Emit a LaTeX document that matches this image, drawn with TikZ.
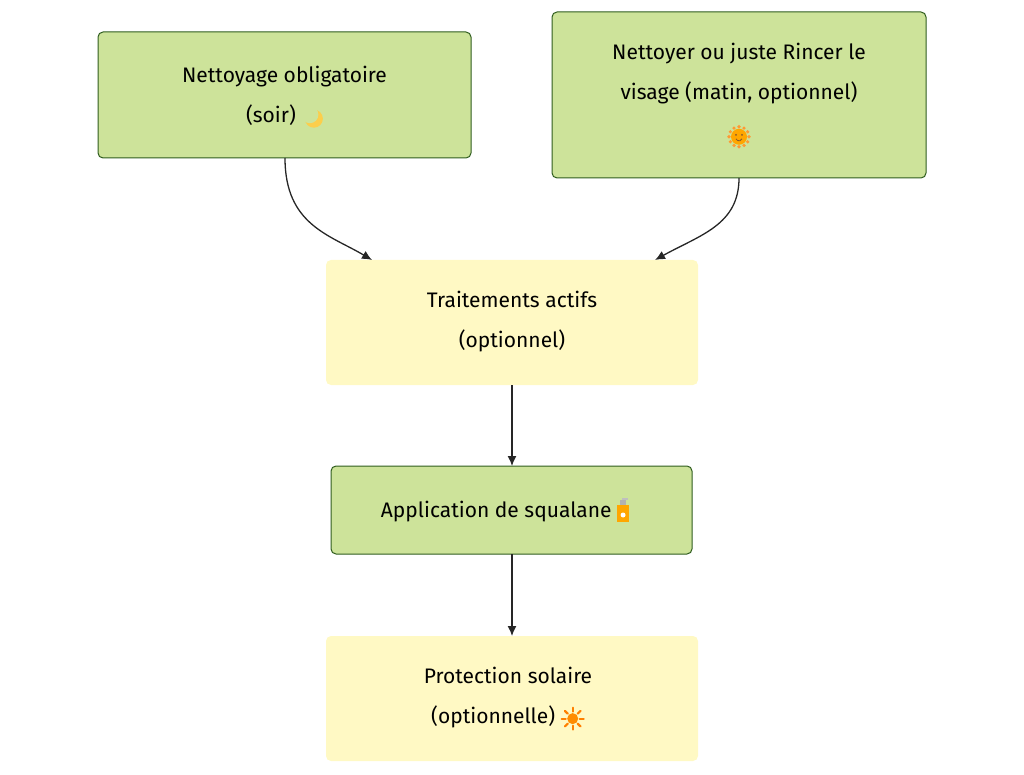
\documentclass[tikz,border=0pt]{standalone}
\usepackage{fontspec}
\setmainfont{Fira Sans}
\usetikzlibrary{arrows.meta}
\definecolor{gfill}{HTML}{CDE39A}
\definecolor{gline}{HTML}{2F5D1E}
\definecolor{yfill}{HTML}{FFF9C4}
\newcommand{\moonicon}{\tikz[baseline=-4pt]{\fill[yellow!50!orange!70] (0,0) circle (9pt); \fill[gfill] (-4pt,4pt) circle (8.5pt);}}
\newcommand{\sunface}{\tikz[baseline=-3pt]{\foreach \a in {0,30,...,330}{\fill[orange!80] (\a:10pt) circle (1.8pt);} \fill[orange!70!yellow] (0,0) circle (8pt); \fill[brown!70!black] (-3pt,2pt) circle (1pt) (3pt,2pt) circle (1pt); \draw[brown!70!black,line width=0.8pt] (-3pt,-2pt) arc (200:340:3.2pt);}}
\newcommand{\bottle}{\tikz[baseline=-7pt]{\fill[orange!70!yellow] (-6pt,-12pt) rectangle (6pt,5pt); \fill[gray!60] (-3pt,5pt) rectangle (3pt,10pt); \fill[gray!50] (-1pt,10pt) rectangle (5pt,12pt); \fill[white] (0,-5pt) circle (2.5pt);}}
\newcommand{\sunicon}{\tikz[baseline=-5pt]{\foreach \a in {0,45,...,315}{\draw[orange,line width=2.2pt,line cap=round] (\a:7pt) -- (\a:11pt);} \fill[orange!90!yellow] (0,0) circle (5.5pt);}}
\begin{document}
\begin{tikzpicture}[x=1pt,y=-1pt,
  box/.style={draw=gline,line width=1pt,fill=gfill,rounded corners=5pt},
  ybox/.style={fill=yfill,rounded corners=5pt},
  txt/.style={align=center,font=\fontsize{21}{40}\selectfont,text=black},
  arr/.style={-{Latex[length=10pt,width=9pt]},line width=1.3pt,draw=black!85}]
\useasboundingbox (0,0) rectangle (1024,775);
\draw[box] (98,32) rectangle (471,158); \node[txt] (A) at (284.5,97) {Nettoyage obligatoire\\(soir) \moonicon};
\coordinate (Ab) at (285,158);
\draw[box] (552,12) rectangle (926,178); \node[txt] (B) at (739,96) {Nettoyer ou juste Rincer le\\visage (matin, optionnel)\\\sunface};
\coordinate (Bb) at (739,178);
\fill[ybox] (326,260) rectangle (698,385); \node[txt] (C) at (512,322) {Traitements actifs\\(optionnel)};
\coordinate (Ct1) at (372,260); \coordinate (Ct2) at (655,260);
\coordinate (Cb) at (512,385);
\draw[box] (331,466) rectangle (692,554); \node[txt] (D) at (505,510) {Application de squalane \bottle};
\coordinate (Dt) at (512,466); \coordinate (Db) at (512,554);
\fill[ybox] (326,636) rectangle (698,761); \node[txt] (E) at (508,699) {Protection solaire\\(optionnelle) \sunicon};
\coordinate (Et) at (512,636);
\draw[arr] (Ab) .. controls (285,225) and (330,235) .. (Ct1);
\draw[arr] (Bb) .. controls (739,225) and (700,235) .. (Ct2);
\draw[arr] (Cb) -- (Dt);
\draw[arr] (Db) -- (Et);
\end{tikzpicture}
\end{document}
